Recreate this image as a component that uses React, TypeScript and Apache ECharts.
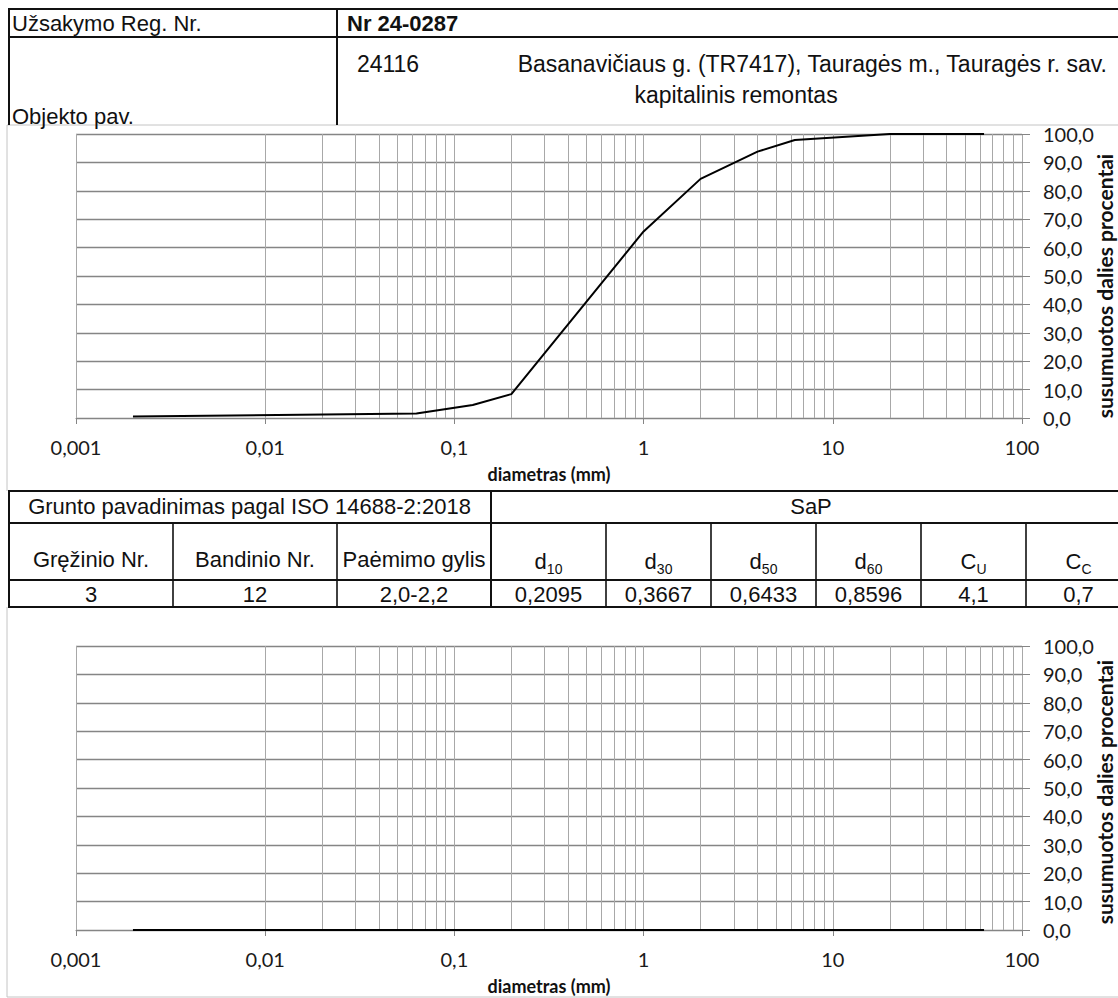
import React, { useEffect, useRef } from "react";
import * as echarts from "echarts";

// Grain size distribution of sample (borehole 3, sample 12)
const sieveSizes = [0.002, 0.063, 0.125, 0.2, 1, 2, 4, 6.3, 20, 63];
const passingPercent = [0.5, 1.6, 4.6, 8.4, 65.7, 84.2, 93.8, 97.9, 100, 100];

// Second grading chart (no sample entered)
const emptySizes = [0.002, 0.063, 0.125, 0.2, 1, 2, 4, 6.3, 20, 63];
const emptyPercent = [0, 0, 0, 0, 0, 0, 0, 0, 0, 0];

// Header texts
const orderLabel = "Užsakymo Reg. Nr.";
const orderNumber = "Nr 24-0287";
const objectLabel = "Objekto pav.";
const objectCode = "24116";
const objectNameLine1 = "Basanavičiaus g. (TR7417), Tauragės m., Tauragės r. sav.";
const objectNameLine2 = "kapitalinis remontas";

// Results table
const soilTitle = "Grunto pavadinimas pagal ISO 14688-2:2018";
const soilName = "SaP";
const sampleHeaders = ["Gręžinio Nr.", "Bandinio Nr.", "Paėmimo gylis"];
const sampleValues = ["3", "12", "2,0-2,2"];
const paramHeaders: [string, string][] = [
  ["d", "10"],
  ["d", "30"],
  ["d", "50"],
  ["d", "60"],
  ["C", "U"],
  ["C", "C"],
];
const paramValues = ["0,2095", "0,3667", "0,6433", "0,8596", "4,1", "0,7"];

const xAxisTitle = "diametras (mm)";
const yAxisTitle = "susumuotos dalies procentai";

const X_MIN = 0.001;
const X_MAX = 100;

const TEXT_FONT = '"Liberation Sans", Arial, sans-serif';
const AXIS_FONT = 'Lato, "Open Sans", sans-serif';
const TEXT_SIZE = 22;
const H_GRID = "#858585";
const V_GRID = "#a8a8a8";
const FRAME = "#c4c4c4";

// Intermediate log-scale gridlines (2..9 within every decade)
const minorGrid: number[] = [];
for (let e = -3; e < 2; e++) {
  for (let m = 2; m <= 9; m++) minorGrid.push(Number((m * Math.pow(10, e)).toPrecision(3)));
}

const fmtComma = (v: number, digits?: number) => {
  const s = digits === undefined ? String(Number(v.toPrecision(4))) : v.toFixed(digits);
  return s.replace(".", ",");
};

const GRIDS = [
  { top: 134, height: 284, titleY: 286 },
  { top: 646, height: 284, titleY: 792 },
];
const PLOT_LEFT = 76;
const PLOT_WIDTH = 946;

function text(x: number, y: number, t: string, extra: any = {}) {
  return {
    type: "text",
    x,
    y,
    silent: true,
    z: 10,
    style: {
      text: t,
      fill: "#111",
      fontSize: TEXT_SIZE,
      fontFamily: TEXT_FONT,
      align: "left",
      verticalAlign: "middle",
      ...extra,
    },
  };
}

function line(x1: number, y1: number, x2: number, y2: number, stroke = "#111", lineWidth = 2) {
  return {
    type: "line",
    silent: true,
    z: 9,
    shape: { x1, y1, x2, y2 },
    style: { stroke, lineWidth },
  };
}

function buildGraphics() {
  const g: any[] = [];

  // chart frames
  g.push(line(7, 125, 1118, 125, FRAME, 1));
  g.push(line(7, 125, 7, 491, FRAME, 1));
  g.push(line(7, 607, 7, 997, FRAME, 1));
  g.push(line(7, 997, 1118, 997, FRAME, 1));

  // header block
  g.push(line(8, 9, 1118, 9));
  g.push(line(8, 37, 1118, 37));
  g.push(line(9, 8, 9, 125));
  g.push(line(337, 8, 337, 125));
  g.push(text(12, 23, orderLabel));
  g.push(text(347, 23, orderNumber, { fontWeight: "bold" }));
  g.push(text(388, 64, objectCode, { align: "center", fontSize: 23 }));
  g.push(text(1107, 64, objectNameLine1, { align: "right", fontSize: 23 }));
  g.push(text(736, 95, objectNameLine2, { align: "center", fontSize: 23 }));
  g.push(text(12, 116, objectLabel));

  // results table
  const tTop = 491;
  const r1 = 523;
  const r2 = 580;
  const r3 = 607;
  const cols = [9, 173, 337, 491, 606, 711, 816, 921, 1026, 1131];
  g.push(line(8, tTop, 1118, tTop));
  g.push(line(8, r1, 1118, r1));
  g.push(line(8, r2, 1118, r2));
  g.push(line(8, r3, 1118, r3));
  g.push(line(9, tTop, 9, r3));
  g.push(line(491, tTop, 491, r3));
  cols.slice(1, 9).forEach((cx) => {
    if (cx !== 491) g.push(line(cx, r1, cx, r3, "#111", 1.6));
  });
  g.push(text((8 + 491) / 2, 506, soilTitle, { align: "center" }));
  g.push(text((491 + 1131) / 2, 506, soilName, { align: "center" }));
  sampleHeaders.forEach((h, i) => {
    g.push(text((cols[i] + cols[i + 1]) / 2, 559, h, { align: "center" }));
  });
  paramHeaders.forEach(([base, sub], i) => {
    const c = 3 + i;
    g.push({
      type: "text",
      x: (cols[c] + cols[c + 1]) / 2,
      y: 561,
      silent: true,
      z: 10,
      style: {
        text: `{b|${base}}{s|${sub}}`,
        align: "center",
        verticalAlign: "middle",
        rich: {
          b: { fontSize: TEXT_SIZE, fontFamily: TEXT_FONT, fill: "#111", lineHeight: 30, verticalAlign: "middle" },
          s: { fontSize: 14, fontFamily: TEXT_FONT, fill: "#111", lineHeight: 30, verticalAlign: "bottom" },
        },
      },
    });
  });
  sampleValues.forEach((v, i) => {
    g.push(text((cols[i] + cols[i + 1]) / 2, 594, v, { align: "center" }));
  });
  paramValues.forEach((v, i) => {
    const c = 3 + i;
    g.push(text((cols[c] + cols[c + 1]) / 2, 594, v, { align: "center" }));
  });

  // vertical axis titles
  GRIDS.forEach((gr) => {
    g.push({
      type: "text",
      x: 1104,
      y: gr.titleY,
      rotation: Math.PI / 2,
      silent: true,
      z: 10,
      style: {
        text: yAxisTitle,
        fill: "#111",
        fontSize: 21,
        fontWeight: "bold",
        fontFamily: AXIS_FONT,
        align: "center",
        verticalAlign: "middle",
      },
    });
  });

  return g;
}

function buildOption() {
  const grid = GRIDS.map((gr) => ({
    left: PLOT_LEFT,
    width: PLOT_WIDTH,
    top: gr.top,
    height: gr.height,
    containLabel: false,
  }));

  const xAxis = GRIDS.map((_, i) => ({
    type: "log",
    logBase: 10,
    gridIndex: i,
    min: X_MIN,
    max: X_MAX,
    name: xAxisTitle,
    nameLocation: "middle",
    nameGap: 47,
    nameTextStyle: { fontFamily: AXIS_FONT, fontWeight: "bold", fontSize: 18, color: "#111" },
    axisLine: { show: true, lineStyle: { color: H_GRID, width: 1 } },
    axisTick: { show: true, length: 6, lineStyle: { color: H_GRID, width: 1 } },
    axisLabel: {
      margin: 19,
      fontFamily: AXIS_FONT,
      fontSize: 20,
      color: "#1a1a1a",
      formatter: (v: number) => fmtComma(v),
    },
    splitLine: { show: true, lineStyle: { color: V_GRID, width: 1 } },
  }));

  const yAxis = GRIDS.map((_, i) => ({
    type: "value",
    gridIndex: i,
    position: "right",
    min: 0,
    max: 100,
    interval: 10,
    axisLine: { show: false },
    axisTick: { show: true, length: 8, lineStyle: { color: H_GRID, width: 1 } },
    axisLabel: {
      margin: 21,
      fontFamily: AXIS_FONT,
      fontSize: 20,
      color: "#1a1a1a",
      formatter: (v: number) => fmtComma(v, 1),
    },
    splitLine: { show: true, lineStyle: { color: H_GRID, width: 1.3 } },
  }));

  const curves = [
    sieveSizes.map((s, k) => [s, passingPercent[k]]),
    emptySizes.map((s, k) => [s, emptyPercent[k]]),
  ];

  const series: any[] = [];
  curves.forEach((data, i) => {
    series.push({
      type: "line",
      xAxisIndex: i,
      yAxisIndex: i,
      data,
      symbol: "none",
      silent: true,
      z: 1,
      lineStyle: { opacity: 0 },
      markLine: {
        silent: true,
        symbol: ["none", "none"],
        label: { show: false },
        lineStyle: { color: V_GRID, width: 1, type: "solid" },
        emphasis: { disabled: true },
        data: minorGrid.map((v) => ({ xAxis: v })),
      },
    });
    series.push({
      type: "line",
      xAxisIndex: i,
      yAxisIndex: i,
      data,
      symbol: "none",
      silent: true,
      z: 5,
      lineStyle: { color: "#000", width: 2 },
    });
  });

  return {
    animation: false,
    backgroundColor: "#fff",
    grid,
    xAxis,
    yAxis,
    series,
    graphic: buildGraphics(),
  };
}

export default function App() {
  const ref = useRef<HTMLDivElement>(null);

  useEffect(() => {
    if (!ref.current) return;
    const chart = echarts.init(ref.current, undefined, { renderer: "svg" });
    chart.setOption(buildOption() as any);
    return () => chart.dispose();
  }, []);

  return (
    <div
      ref={ref}
      style={{ position: "absolute", left: 0, top: 0, width: 1118, height: 998, background: "#fff" }}
    />
  );
}
